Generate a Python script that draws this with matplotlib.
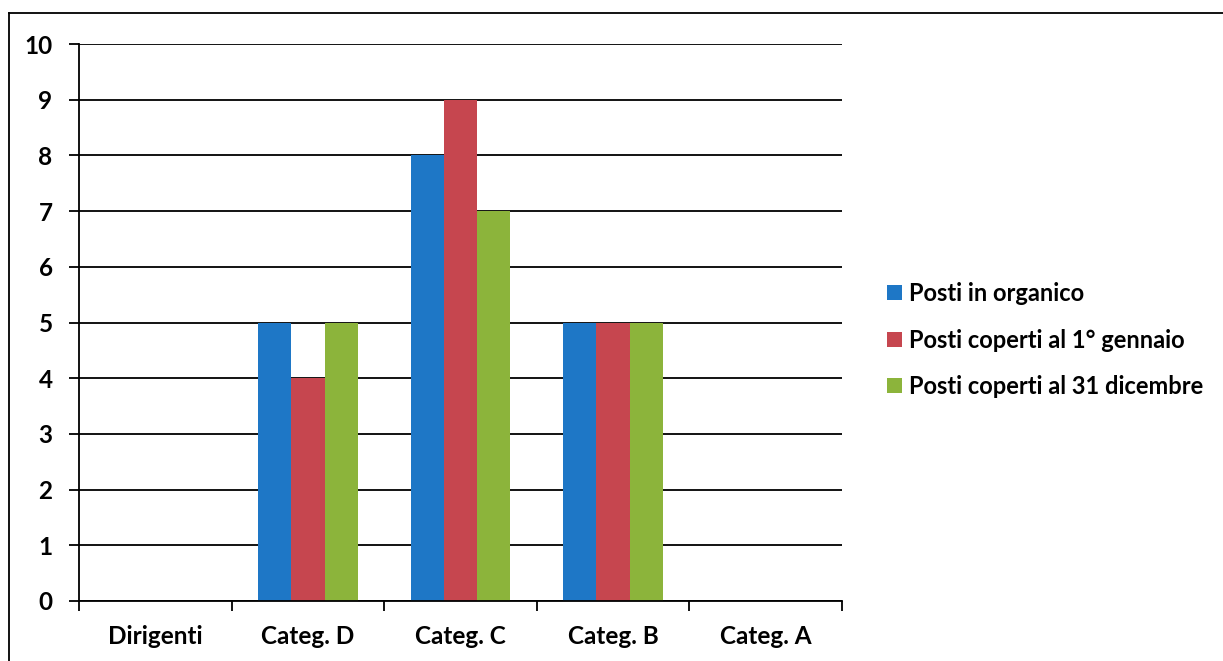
import matplotlib
matplotlib.use("Agg")
import matplotlib.pyplot as plt
from matplotlib.lines import Line2D
from matplotlib.patches import Patch
import numpy as np

categories = ["Dirigenti", "Categ. D", "Categ. C", "Categ. B", "Categ. A"]
posti_organico = [0, 5, 8, 5, 0]
coperti_1_gennaio = [0, 4, 9, 5, 0]
coperti_31_dicembre = [0, 5, 7, 5, 0]
series_labels = ["Posti in organico", "Posti coperti al 1° gennaio",
                 "Posti coperti al 31 dicembre"]
colors = ["#1E77C6", "#C6464F", "#8CB43B"]
y_ticks = list(range(0, 11))

plt.rcParams["font.family"] = ["Lato", "DejaVu Sans"]
plt.rcParams["font.weight"] = "bold"

W, H = 1223, 661
fig = plt.figure(figsize=(W / 100, H / 100), dpi=100)
ax = fig.add_axes([79 / W, 1 - 601 / H, (842 - 79) / W, (601 - 44) / H])

x = np.arange(len(categories))
bw = 0.218
series = [posti_organico, coperti_1_gennaio, coperti_31_dicembre]
for i, (vals, col, lab) in enumerate(zip(series, colors, series_labels)):
    ax.bar(x + (i - 1) * bw, vals, width=bw, color=col, label=lab,
           edgecolor="none", zorder=3)

ax.set_xlim(-0.5, len(categories) - 0.5)
ax.set_ylim(0, 10)
ax.set_yticks(y_ticks)
ax.set_yticklabels([str(v) for v in y_ticks], fontsize=17.5, fontweight="bold")
ax.set_xticks(x)
ax.set_xticklabels(categories, fontsize=17.5, fontweight="bold")
ax.set_xticks(np.arange(-0.5, len(categories)), minor=True)
ax.tick_params(axis="x", which="major", length=0, pad=17)
ax.tick_params(axis="x", which="minor", length=7, width=1.3, direction="out")
ax.tick_params(axis="y", length=7, width=1.3, direction="out", pad=12)

ax.yaxis.grid(True, color="black", linewidth=1.3, zorder=1)
ax.set_axisbelow(True)
for s in ["top", "right"]:
    ax.spines[s].set_visible(False)
for s in ["left", "bottom"]:
    ax.spines[s].set_linewidth(1.3)
    ax.spines[s].set_zorder(4)

handles = [Patch(facecolor=c, edgecolor="none") for c in colors]
fig.legend(handles, series_labels, loc="center left",
           bbox_to_anchor=(878 / W, 1 - 340 / H), frameon=False,
           prop={"size": 17, "weight": "bold"},
           handlelength=0.6, handleheight=0.6, handletextpad=0.3,
           labelspacing=1.0, borderaxespad=0)

# outer frame lines
fig.add_artist(Line2D([9 / W, 1.0], [1 - 13 / H, 1 - 13 / H],
                      transform=fig.transFigure, color="black", linewidth=1.3))
fig.add_artist(Line2D([9 / W, 9 / W], [0.0, 1 - 13 / H],
                      transform=fig.transFigure, color="black", linewidth=1.3))

fig.savefig("out.png", dpi=100)
